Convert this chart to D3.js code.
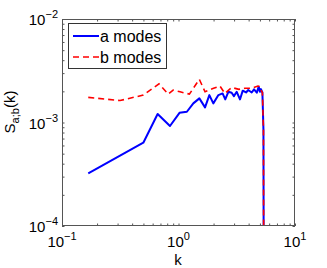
<!DOCTYPE html>
<html>
<head>
<meta charset="utf-8">
<script src="https://cdn.jsdelivr.net/npm/d3@7"></script>
<style>
  body { margin: 0; background: #fff; }
  text { font-family: "Liberation Sans", Arial, sans-serif; fill: #000; }
</style>
</head>
<body>
<script>
// a modes (blue solid)
let kA = [0.168, 0.499, 0.662, 0.845, 1.02, 1.18, 1.34, 1.51, 1.69, 1.84, 1.99, 2.20, 2.39, 2.52,
  2.68, 2.86, 2.99, 3.16, 3.37, 3.56, 3.80, 3.97, 4.25, 4.45, 4.70, 4.88, 5.00, 5.10, 5.25, 5.36, 5.42];
let sA = [3.23e-4, 6.38e-4, 1.21e-3, 9.25e-4, 1.24e-3, 1.27e-3, 1.53e-3, 1.71e-3, 1.40e-3, 1.84e-3,
  1.53e-3, 1.84e-3, 1.91e-3, 1.67e-3, 1.98e-3, 1.94e-3, 1.80e-3, 1.98e-3, 1.67e-3, 2.03e-3, 1.95e-3,
  2.06e-3, 1.95e-3, 2.09e-3, 1.94e-3, 2.22e-3, 1.98e-3, 2.10e-3, 1.95e-3, 8.5e-4, 1e-6];

// b modes (red dashed)
let kB = [0.168, 0.315, 0.499, 0.68, 0.817, 0.90, 1.03, 1.24, 1.51, 1.69, 2.0, 2.27, 2.5, 2.86,
  3.3, 3.7, 4.25, 4.8, 5.0, 5.1, 5.25, 5.36, 5.42];
let sB = [1.75e-3, 1.63e-3, 1.84e-3, 2.36e-3, 1.88e-3, 2.06e-3, 1.98e-3, 1.88e-3, 2.61e-3, 1.98e-3,
  2.14e-3, 2.25e-3, 1.91e-3, 2.18e-3, 2.09e-3, 2.14e-3, 2.14e-3, 2.25e-3, 2.22e-3, 2.06e-3, 1.95e-3, 8.5e-4, 1e-6];

let xMajor = [0.1, 1, 10];
let xMajorExp = ["\u22121", "0", "1"];
let yMajor = [1e-4, 1e-3, 1e-2];
let yMajorExp = ["\u22124", "\u22123", "\u22122"];
let legendNames = ["a modes", "b modes"];

(function() {
  let svg = d3.select("body").append("svg")
    .attr("width", 327)
    .attr("height", 268);

  let left = 62, right = 295, top = 19, bottom = 226;

  let xScale = d3.scaleLog().domain([0.1, 10]).range([left, right]);
  let yScale = d3.scaleLog().domain([1e-4, 1e-2]).range([bottom, top]);

  // minor + major ticks, inward, on all four sides
  let tickLen = 2.5;
  let axisColor = "#555";

  function drawTicks(axis, transform) {
    let g = svg.append("g").attr("transform", transform).call(axis);
    g.select(".domain").remove();
    g.selectAll("line").attr("stroke", axisColor);
    g.selectAll("text").remove();
  }

  drawTicks(d3.axisBottom(xScale).tickValues(xScale.ticks()).tickSize(-tickLen), `translate(0,${bottom})`);
  drawTicks(d3.axisTop(xScale).tickValues(xScale.ticks()).tickSize(-tickLen), `translate(0,${top})`);
  drawTicks(d3.axisLeft(yScale).tickValues(yScale.ticks()).tickSize(-tickLen), `translate(${left},0)`);
  drawTicks(d3.axisRight(yScale).tickValues(yScale.ticks()).tickSize(-tickLen), `translate(${right},0)`);

  // data lines
  svg.append("clipPath").attr("id", "clip")
    .append("rect")
    .attr("x", left).attr("y", top)
    .attr("width", right - left).attr("height", bottom - top);

  let line = d3.line()
    .x((d) => xScale(d[0]))
    .y((d) => yScale(d[1]));

  let plot = svg.append("g").attr("clip-path", "url(#clip)");

  plot.append("path")
    .datum(kA.map((k, i) => [k, sA[i]]))
    .attr("d", line)
    .attr("fill", "none")
    .attr("stroke", "#0000ff")
    .attr("stroke-width", 2)
    .attr("stroke-linejoin", "round");

  plot.append("path")
    .datum(kB.map((k, i) => [k, sB[i]]))
    .attr("d", line)
    .attr("fill", "none")
    .attr("stroke", "#ff0000")
    .attr("stroke-width", 1.6)
    .attr("stroke-dasharray", "6,4");

  // box
  svg.append("rect")
    .attr("x", left + 0.5).attr("y", top + 0.5)
    .attr("width", right - left - 1).attr("height", bottom - top - 1)
    .attr("fill", "none")
    .attr("stroke", axisColor)
    .attr("stroke-width", 1);

  // tick labels with superscripts
  xMajor.forEach((v, i) => {
    let t = svg.append("text")
      .attr("x", xScale(v))
      .attr("y", 247)
      .attr("text-anchor", "middle")
      .style("font-size", "15px");
    t.append("tspan").text("10");
    t.append("tspan").attr("dy", -7).style("font-size", "11px").text(xMajorExp[i]);
  });

  yMajor.forEach((v, i) => {
    let t = svg.append("text")
      .attr("x", 58)
      .attr("y", yScale(v) + 6)
      .attr("text-anchor", "end")
      .style("font-size", "15px");
    t.append("tspan").text("10");
    t.append("tspan").attr("dy", -7).style("font-size", "11px").text(yMajorExp[i]);
  });

  // axis titles
  svg.append("text")
    .attr("x", 178)
    .attr("y", 265)
    .attr("text-anchor", "middle")
    .style("font-size", "15px")
    .text("k");

  let yt = svg.append("text")
    .attr("transform", "translate(15,112)rotate(-90)")
    .attr("text-anchor", "middle")
    .style("font-size", "15px");
  yt.append("tspan").text("S");
  yt.append("tspan").attr("dy", 4).style("font-size", "11px").text("a;b");
  yt.append("tspan").attr("dy", -4).text("(k)");

  // legend
  let lg = svg.append("g");
  lg.append("rect")
    .attr("x", 68.5).attr("y", 23.5)
    .attr("width", 98).attr("height", 45)
    .attr("fill", "#fff")
    .attr("stroke", "#333")
    .attr("stroke-width", 1);

  let legendColors = ["#0000ff", "#ff0000"];
  let legendDash = [null, "6,4"];
  legendNames.forEach((name, i) => {
    let y = 36 + i * 21;
    lg.append("line")
      .attr("x1", 73).attr("x2", 99)
      .attr("y1", y).attr("y2", y)
      .attr("stroke", legendColors[i])
      .attr("stroke-width", i == 0 ? 2 : 1.6)
      .attr("stroke-dasharray", legendDash[i]);
    lg.append("text")
      .attr("x", 100)
      .attr("y", y + 6)
      .style("font-size", "16px")
      .text(name);
  });
})();
</script>
</body>
</html>
